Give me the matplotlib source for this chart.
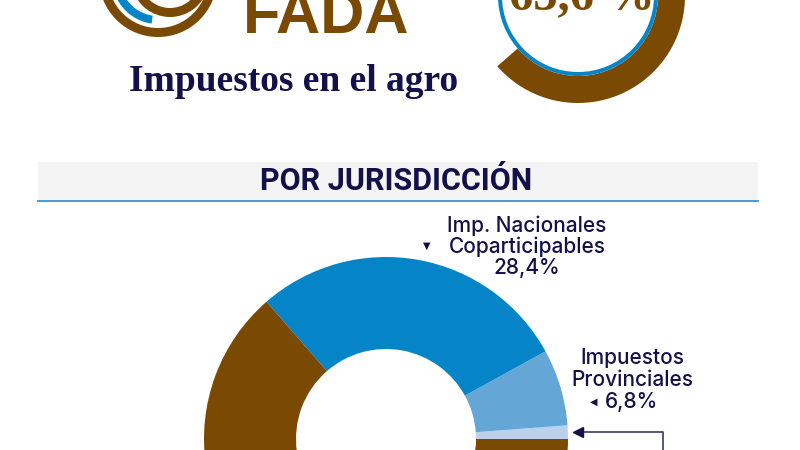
import matplotlib.pyplot as plt
from matplotlib.patches import Wedge, Rectangle

BROWN = "#7a4a02"
BLUE = "#0585c8"
LIGHT = "#64a7d6"
PALE = "#bad2ee"
NAVY = "#12114a"

# shares by jurisdiction (%), counter-clockwise from 3 o'clock
jur_labels = ["Imp. Municipales", "Impuestos Provinciales",
              "Imp. Nacionales Coparticipables", "Imp. Nacionales No Coparticipables"]
jur_values = [1.2, 6.8, 28.4, 63.6]
jur_colors = [PALE, LIGHT, BLUE, BROWN]

# headline share shown in the top ring
headline_share = 63.6
headline_rest = 100 - headline_share

title = "Impuestos en el agro"
section = "POR JURISDICCIÓN"


def Y(y):
    # pixel row (from top) -> data y
    return 450 - y


fig = plt.figure(figsize=(8, 4.5), dpi=100)
ax = fig.add_axes([0, 0, 1, 1])

# --- logo (partly cut off at the top) ---
cx, cy = 158, Y(-22)
ax.add_patch(Wedge((cx, cy), 59, 0, 360, width=9, color=BROWN, lw=0))
ax.add_patch(Wedge((cx, cy), 46, 205, 262, width=8, color=BLUE, lw=0))
ax.add_patch(Wedge((170, cy), 39, 195, 345, width=9, color=BROWN, lw=0))
ax.text(243, Y(33), "FADA", color=BROWN, fontsize=44, fontweight="bold",
        family="Liberation Sans", ha="left", va="baseline")

# --- headline ring top right ---
ring_c = (578, Y(-4))
ax.pie([headline_share, headline_rest], colors=[BROWN, "none"], startangle=90,
       counterclock=False, center=ring_c, radius=107,
       wedgeprops=dict(width=27, linewidth=0), frame=True)
ax.add_patch(Wedge(ring_c, 80, 0, 360, width=4, color=BLUE, lw=0))
ax.text(582, Y(9), f"{headline_share:.1f} %".replace(".", ","), color=BROWN,
        fontsize=35, fontweight="bold", family="Liberation Serif",
        ha="center", va="baseline")

ax.text(294, Y(91), title, color=NAVY, fontsize=27, fontweight="bold",
        family="Liberation Serif", ha="center", va="baseline")

# --- section header ---
ax.add_patch(Rectangle((38, Y(200)), 720, 38, facecolor="#f4f4f4", lw=0))
ax.plot([38, 758], [Y(200.5), Y(200.5)], color="#3d93cf", lw=1.3)
ax.text(396, Y(181), section, color=NAVY, fontsize=22, fontweight="bold",
        family="Roboto", ha="center", va="center")

# --- donut by jurisdiction ---
ax.pie(jur_values, colors=jur_colors, startangle=0, counterclock=True,
       center=(386, Y(439)), radius=182,
       wedgeprops=dict(width=92, linewidth=0), frame=True)

lab_kw = dict(color=NAVY, fontsize=15, family="Inter", fontweight=500,
              ha="center", va="center")
ax.text(527, Y(226), "Imp. Nacionales", **lab_kw)
ax.text(527, Y(247), "Coparticipables", **lab_kw)
ax.text(527, Y(268), f"{jur_values[2]:.1f}%".replace(".", ","), **lab_kw)
ax.text(427, Y(246), "▼", color=NAVY, fontsize=7, family="DejaVu Sans",
        ha="center", va="center")

ax.text(632, Y(358), "Impuestos", **lab_kw)
ax.text(632, Y(380), "Provinciales", **lab_kw)
ax.text(632, Y(402), f"{jur_values[1]:.1f}%".replace(".", ","), **lab_kw)
ax.text(594, Y(402), "◀", color=NAVY, fontsize=7, family="DejaVu Sans",
        ha="center", va="center")

# pointer to the thin municipal slice
ax.plot([663, 663, 580], [Y(460), Y(432), Y(432)], color="#3a3a66", lw=1.2)
ax.plot(578, Y(432), marker="<", ms=7, color=NAVY, mec=NAVY)

ax.set_xlim(0, 800)
ax.set_ylim(0, 450)
ax.set_aspect("equal")
ax.axis("off")

fig.savefig("out.png", dpi=100, facecolor="white")
